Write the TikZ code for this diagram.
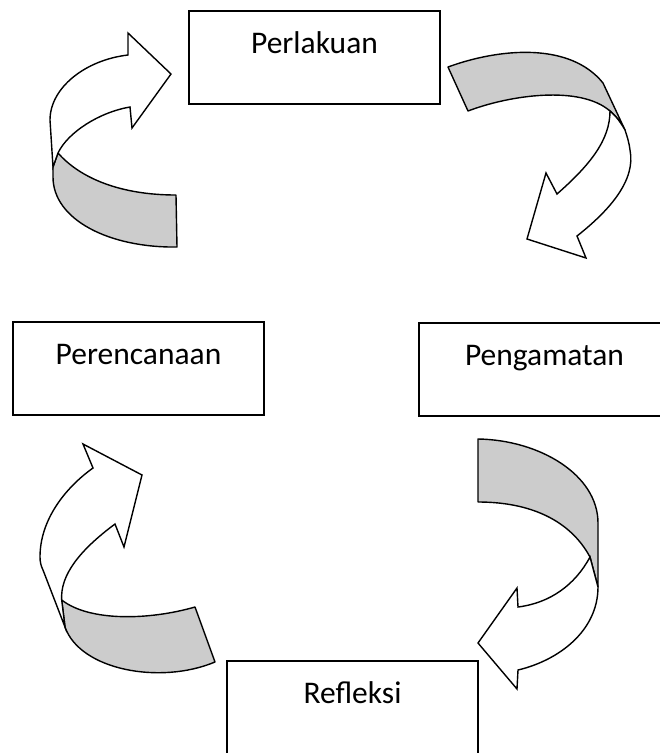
\documentclass[tikz,border=0pt]{standalone}
\usepackage{fontspec}
\setmainfont{Carlito}
\definecolor{ribbon}{RGB}{204,204,204}

\begin{document}
\begin{tikzpicture}[x=1pt, y=-1pt,
	stagebox/.style={draw, line width=1.6pt, minimum width=251pt, inner xsep=0pt, inner ysep=0pt,
		text height=42pt, text depth=51pt, font=\fontsize{31.5}{38}\selectfont},
	band/.style={draw, line width=1.4pt, line join=round, fill=ribbon},
	face/.style={draw, line width=1.4pt, line join=miter, fill=white}]
	\useasboundingbox (0,0) rectangle (660,753);

	% the four stages
	\node[stagebox] (perlakuan) at (314.5,57.5) {Perlakuan};
	\node[stagebox] (pengamatan) at (544.5,369.5) {Pengamatan};
	\node[stagebox] (perencanaan) at (138.5,368.5) {Perencanaan};
	\node[stagebox, text depth=57pt] (refleksi) at (352.5,710.5) {Refleksi};

	% top left arrow
	\draw[band] (58,153) .. controls (80,178) and (120,195) .. (176,195) -- (177,247)
		.. controls (110,248) and (53,220) .. (53,177) -- (53,167) -- cycle;
	\draw[face] (53,167) -- (50,120) .. controls (50,88) and (85,60) .. (128,55) -- (128,33) -- (171,74)
		-- (132,128) -- (130,107) .. controls (100,112) and (68,132) .. (58,153) -- cycle;

	% top right arrow
	\draw[band] (448,67) .. controls (500,48) and (570,42) .. (603,83) -- (625,130)
		.. controls (621,123) and (617,117) .. (610,111) .. controls (580,85) and (510,95) .. (468,111) -- cycle;
	\draw[face] (610,111) .. controls (610,140) and (590,165) .. (557,194) -- (546,173) -- (527,239)
		-- (586,258) -- (577,236) .. controls (610,210) and (636,180) .. (630,150)
		.. controls (629,142) and (627,136) .. (625,130) .. controls (621,123) and (617,117) .. (610,111) -- cycle;

	% bottom right arrow
	\draw[band] (478,439) .. controls (540,440) and (598,475) .. (598,523) -- (598,587) -- (590,557)
		.. controls (570,520) and (530,502) .. (478,502) -- cycle;
	\draw[face] (590,557) .. controls (575,585) and (550,603) .. (518,607) -- (517,588) -- (478,643)
		-- (517,689) -- (518,670) .. controls (560,660) and (598,630) .. (598,587) -- cycle;

	% bottom left arrow
	\draw[band] (61.7,600) .. controls (90,622) and (150,620) .. (195,607) -- (215,662)
		.. controls (160,685) and (80,670) .. (65,627) -- cycle;
	\draw[face] (61.7,600) .. controls (60,575) and (80,550) .. (115,524) -- (124,547) -- (142,475)
		-- (83,444) -- (93,468) .. controls (65,488) and (40,520) .. (40,557)
		.. controls (40,562) and (41,566) .. (43,570) -- (65,627) -- cycle;
\end{tikzpicture}
\end{document}
